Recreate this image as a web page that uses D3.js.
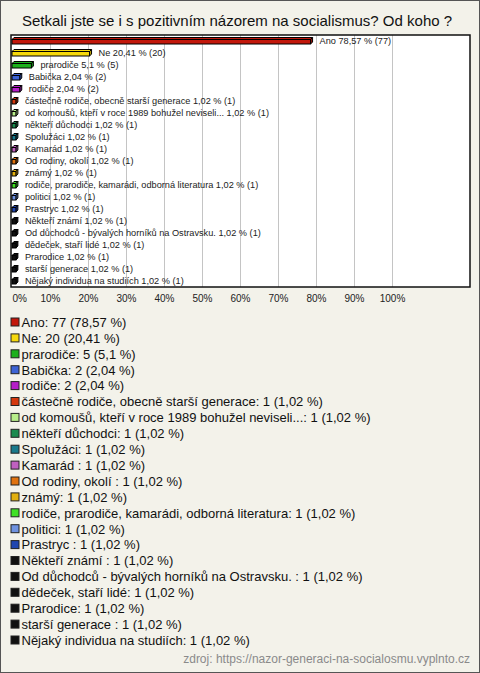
<!DOCTYPE html>
<html><head><meta charset="utf-8">
<script src="https://cdn.jsdelivr.net/npm/d3@7"></script>
<style>html,body{margin:0;padding:0;background:#fff}svg{display:block}</style>
</head><body>
<script>
const title = "Setkali jste se i s pozitivním názorem na socialismus? Od koho ?";
const categories = ["Ano","Ne","prarodiče","Babička","rodiče","částečně rodiče, obecně starší generace","od komoušů, kteří v roce 1989 bohužel neviseli...","někteří důchodci","Spolužáci","Kamarád ","Od rodiny, okolí ","známý","rodiče, prarodiče, kamarádi, odborná literatura","politici","Prastryc ","Někteří známí ","Od důchodců - bývalých horníků na Ostravsku. ","dědeček, staří lidé","Prarodice","starší generace ","Nějaký individua na studiích"];
const counts = [77,20,5,2,2,1,1,1,1,1,1,1,1,1,1,1,1,1,1,1,1];
const percents = [78.57,20.41,5.1,2.04,2.04,1.02,1.02,1.02,1.02,1.02,1.02,1.02,1.02,1.02,1.02,1.02,1.02,1.02,1.02,1.02,1.02];
const colors = ["#c2170b","#f5d80c","#1cb01c","#3d63d4","#b51ec8","#d4380e","#b8ee8a","#1a8a4e","#1a7a8c","#c060c0","#e0720f","#e2b00f","#40e024","#6f92e0","#2046b0","#111","#111","#111","#111","#111","#111"];
const tickValues = [0,10,20,30,40,50,60,70,80,90,100];
const source = "zdroj: https://nazor-generaci-na-socialosmu.vyplnto.cz";

const W = 480, H = 673;
const fmt = v => String(v).replace(".", ",");
const svg = d3.select("body").append("svg").attr("width", W).attr("height", H)
  .style("font-family", "Arial, 'Liberation Sans', sans-serif");

svg.append("rect").attr("x",0.5).attr("y",0.5).attr("width",W-1).attr("height",H-1)
  .attr("fill","#f3f2ea").attr("stroke","#555");

svg.append("text").attr("x",237).attr("y",26).attr("text-anchor","middle")
  .attr("font-size",15).attr("fill","#111").text(title);

const pl = 11, pt = 35, pr = 470, pb = 287;
svg.append("rect").attr("x",pl).attr("y",pt).attr("width",pr-pl).attr("height",pb-pt)
  .attr("fill","#fff");

const x = d3.scaleLinear().domain([0,100]).range([12,392]);
const y = d3.scaleBand().domain(categories).range([pt,pb]).padding(0);

// gridlines
const grid = svg.append("g").attr("transform",`translate(0,${pb})`)
  .call(d3.axisBottom(x).tickValues(tickValues.slice(1)).tickSize(-(pb-pt)).tickFormat(""));
grid.select(".domain").remove();
grid.selectAll("line").attr("stroke","#c4c4c4");

svg.append("rect").attr("x",pl).attr("y",pt).attr("width",pr-pl).attr("height",pb-pt)
  .attr("fill","none").attr("stroke","#111").attr("stroke-width",1.5);

// axis labels
const ax = svg.append("g").attr("transform",`translate(0,${pb})`)
  .call(d3.axisBottom(x).tickValues(tickValues).tickSize(0).tickPadding(8).tickFormat(d => d + "%"));
ax.select(".domain").remove();
ax.selectAll("text").attr("font-size",10).attr("fill","#222").style("font-family","Arial, 'Liberation Sans', sans-serif");
ax.selectAll(".tick").filter(d => d === 0).select("text").attr("text-anchor","start").attr("dx",0);

// bars (3D look)
const dpt = 2;
const bars = svg.append("g").selectAll("g").data(categories).join("g");
bars.each(function(c, i) {
  const g = d3.select(this);
  const cy = y(c) + y.bandwidth()/2;
  const x0 = x(0), x1 = x(percents[i]);
  const yt = cy - 1.5, yb = cy + 3;
  const col = colors[i];
  g.append("polygon")
    .attr("points", [[x0,yt],[x0+dpt,yt-dpt],[x1+dpt,yt-dpt],[x1,yt]].map(p=>p.join(",")).join(" "))
    .attr("fill", col).attr("stroke","#000").attr("stroke-width",1);
  g.append("polygon")
    .attr("points", [[x1,yt],[x1+dpt,yt-dpt],[x1+dpt,yb-dpt],[x1,yb]].map(p=>p.join(",")).join(" "))
    .attr("fill", d3.color(col).darker(0.6)).attr("stroke","#000").attr("stroke-width",1);
  g.append("rect").attr("x",x0).attr("y",yt).attr("width",x1-x0).attr("height",yb-yt)
    .attr("fill", col).attr("stroke","#000").attr("stroke-width",1);
  g.append("text").attr("x", x1 + 9).attr("y", cy + 3.2)
    .attr("font-size",9.2).attr("fill","#222")
    .text(`${c} ${fmt(percents[i])} % (${counts[i]})`);
});

// legend
const lg = svg.append("g").selectAll("g").data(categories).join("g")
  .attr("transform",(d,i)=>`translate(10,${322 + i*15.9})`);
lg.append("rect").attr("x",1).attr("y",-4).attr("width",8).attr("height",8)
  .attr("fill",(d,i)=>colors[i]).attr("stroke","#222").attr("stroke-width",1);
lg.append("text").attr("x",11.5).attr("y",4.8).attr("font-size",13).attr("fill","#111")
  .text((d,i)=>`${d}: ${counts[i]} (${fmt(percents[i])} %)`);

svg.append("text").attr("x",470).attr("y",663).attr("text-anchor","end")
  .attr("font-size",12).attr("fill","#8a8a8a").text(source);
</script>
</body></html>
